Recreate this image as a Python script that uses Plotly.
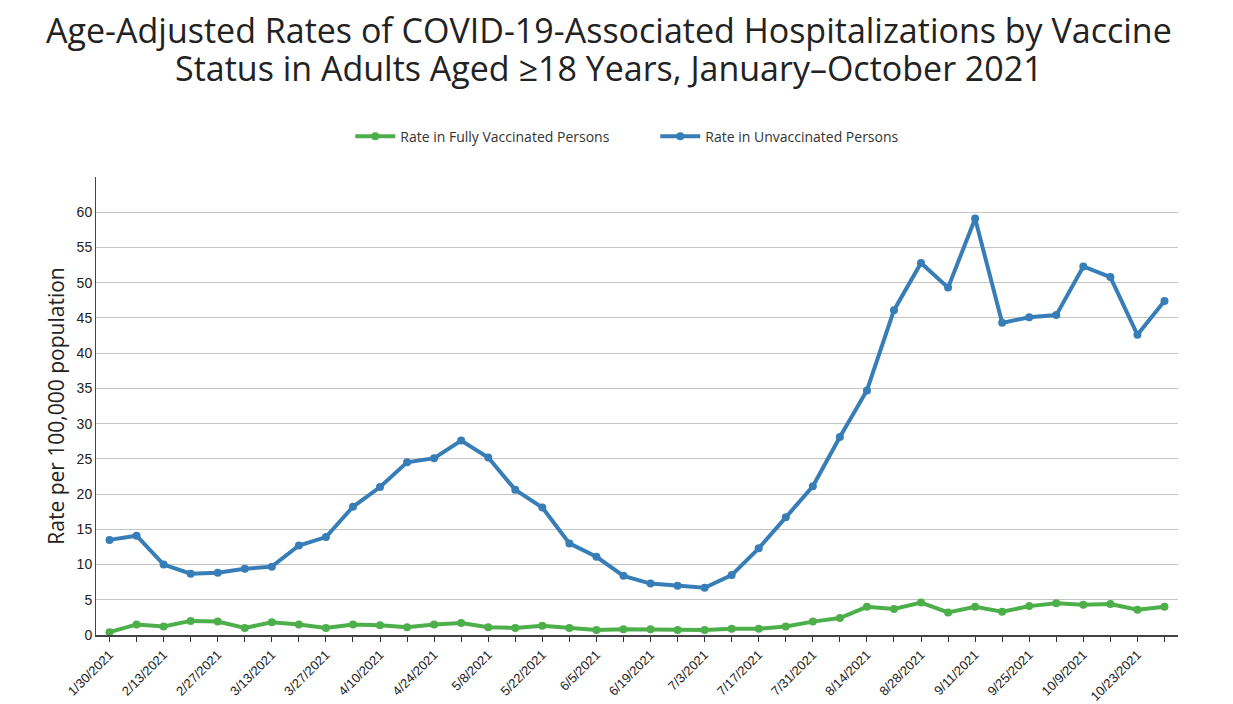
import plotly.graph_objects as go
import pandas as pd

dates = pd.date_range("2021-01-30", "2021-10-30", freq="7D")
categories = [f"{d.month}/{d.day}/{d.year}" for d in dates]

unvaccinated = [13.5, 14.1, 10.0, 8.7, 8.85, 9.4, 9.7, 12.7, 13.9, 18.2,
                21.0, 24.5, 25.1, 27.6, 25.2, 20.6, 18.1, 13.0, 11.1, 8.4,
                7.3, 7.0, 6.7, 8.5, 12.3, 16.7, 21.1, 28.1, 34.7, 46.1,
                52.8, 49.3, 59.1, 44.3, 45.1, 45.4, 52.3, 50.8, 42.6, 47.4]
vaccinated = [0.4, 1.5, 1.2, 2.0, 1.9, 1.0, 1.8, 1.5, 1.0, 1.5,
              1.4, 1.1, 1.5, 1.7, 1.1, 1.0, 1.3, 1.0, 0.7, 0.8,
              0.8, 0.7, 0.7, 0.9, 0.9, 1.2, 1.9, 2.4, 4.0, 3.7,
              4.6, 3.2, 4.0, 3.3, 4.1, 4.5, 4.3, 4.4, 3.6, 4.0]

tick_text = [c if i % 2 == 0 else "" for i, c in enumerate(categories)]
y_ticks = list(range(0, 61, 5))
title_lines = ["Age-Adjusted Rates of COVID-19-Associated Hospitalizations by Vaccine",
               "Status in Adults Aged ≥18 Years, January–October 2021"]

GREEN = "#4daf4a"
BLUE = "#377eb8"

fig = go.Figure()
fig.add_trace(go.Scatter(x=categories, y=vaccinated, mode="lines+markers",
                         name="Rate in Fully Vaccinated Persons",
                         line=dict(color=GREEN, width=4),
                         marker=dict(color=GREEN, size=8)))
fig.add_trace(go.Scatter(x=categories, y=unvaccinated, mode="lines+markers",
                         name="Rate in Unvaccinated Persons",
                         line=dict(color=BLUE, width=4),
                         marker=dict(color=BLUE, size=8)))

for txt, yy in zip(title_lines, [1.320, 1.238]):
    fig.add_annotation(text=txt, xref="paper", yref="paper", x=0.474, y=yy,
                       xanchor="center", yanchor="middle", showarrow=False,
                       font=dict(family="Open Sans", size=34, color="#222"))

fig.update_layout(
    width=1233, height=704,
    paper_bgcolor="white", plot_bgcolor="white",
    margin=dict(l=96, r=55, t=177, b=69),
    legend=dict(orientation="h", x=0.235, xanchor="left", y=1.088, yanchor="middle",
                font=dict(family="Open Sans", size=14, color="#333"),
                itemwidth=40, tracegroupgap=0, entrywidth=250),
    showlegend=True,
)
fig.update_xaxes(type="category", range=[-0.5, len(categories) - 0.5],
                 tickmode="array", tickvals=categories, ticktext=tick_text,
                 tickangle=-45, ticks="outside", ticklen=5, tickcolor="#333",
                 showline=True, linecolor="#444", linewidth=2,
                 showgrid=False, zeroline=False, automargin=False,
                 tickfont=dict(family="Liberation Sans, Arial", size=13, color="#222"))
fig.update_yaxes(range=[0, 65], tickmode="array", tickvals=y_ticks,
                 showline=True, linecolor="#444", linewidth=1,
                 showgrid=True, gridcolor="#c4c4c4", gridwidth=1,
                 zeroline=False, ticks="", automargin=False,
                 tickfont=dict(family="Liberation Sans, Arial", size=14, color="#222"),
                 title=dict(text="Rate per 100,000 population", standoff=6,
                            font=dict(family="Open Sans", size=21, color="#222")))

fig.write_html("out.html")
